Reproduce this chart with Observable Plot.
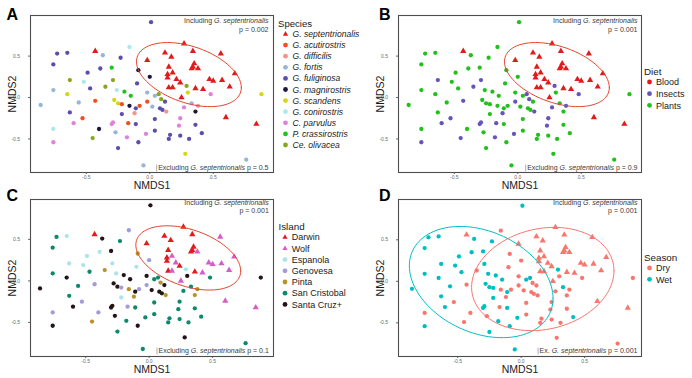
<!DOCTYPE html>
<html><head><meta charset="utf-8">
<script src="https://cdn.jsdelivr.net/npm/d3@7"></script>
<script src="https://cdn.jsdelivr.net/npm/@observablehq/plot@0.6"></script>
<style>
body{margin:0;background:#fff;}
#root{position:relative;width:692px;height:378px;overflow:hidden;font-family:"Liberation Sans",Arial,sans-serif;background:#fff;}
.panel{position:absolute;}
#overlay{position:absolute;left:0;top:0;pointer-events:none;}
</style></head><body><div id="root"></div>
<script>
// ---------- categories ----------
const speciesNames = ["G. septentrionalis","G. acutirostris","G. difficilis","G. fortis","G. fuliginosa","G. magnirostris","G. scandens","G. conirostris","C. parvulus","P. crassirostris","Ce. olivacea"];
const speciesColors = ["#e31a1c","#f0501e","#f4948c","#97b5d9","#5c4fab","#1d1740","#d6d614","#aee8e8","#de84d8","#1dc51d","#88a61f"];
const dietNames = ["Blood","Insects","Plants"];
const dietColors = ["#e31a1c","#6853bd","#21c11a"];
const islandNames = ["Darwin","Wolf","Espanola","Genovesa","Pinta","San Cristobal","Santa Cruz+"];
const islandColors = ["#e31a1c","#d75bc9","#ade3ea","#a39bdc","#b8922b","#0b8a6e","#241416"];
const seasonNames = ["Dry","Wet"];
const seasonColors = ["#F8766D","#00BFC4"];
const xTicks = [-0.5, 0, 0.5];
const yTicks = [-0.5, 0, 0.5];

// ---------- samples (NMDS scores + group codes) ----------
const nmds1 = [
 -0.43,-0.02,0.27,0.12,0.17,0.34,0.56,0.35,0.34,0.33,0.38,0.15,0.18,0.14,0.14,0.21,0.24,0.15,0.18,0.36,0.42,0.25,0.47,0.50,0.57,0.67,0.63,0.60,0.84,
 0.01,-0.73,-0.65,-0.37,-0.16,-0.76,-0.23,-0.49,-0.39,-0.30,-0.09,-0.63,-0.52,-0.47,-0.35,-0.29,-0.76,-0.65,0.00,-0.10,-0.26,-0.20,-0.15,-0.02,-0.86,-0.56,-0.43,-0.28,-0.25,-0.22,-0.02,-0.08,-0.11,-0.16,-0.63,-0.53,-0.22,-0.12,0.02,-0.60,-0.40,-0.30,-0.29,-0.17,-0.11,-0.76,-0.27,-0.18,-0.03,-0.45,-0.09,-0.76,-0.25,-0.05,
 0.04,0.07,0.09,0.12,0.08,0.10,0.13,0.04,0.24,0.23,0.36,0.04,0.16,0.15,0.24,0.31,0.41,0.28,0.76,0.88,
 0.29,0.30,0.48,0.33,0.38,0.36,0.27];
const nmds2 = [
 0.56,0.45,0.65,0.54,0.49,0.56,0.53,0.41,0.37,0.35,0.35,0.37,0.30,0.28,0.24,0.22,0.18,0.12,0.12,0.11,0.10,0.00,0.22,0.20,0.21,0.29,0.13,-0.24,-0.32,
 0.91,0.53,0.54,0.51,0.61,0.40,0.48,0.30,0.35,0.36,0.33,0.21,0.19,0.11,0.13,0.21,0.09,0.04,0.25,0.17,0.09,0.07,0.02,0.06,-0.09,-0.06,-0.04,-0.03,-0.07,-0.08,-0.05,-0.10,-0.13,-0.10,-0.18,-0.25,-0.20,-0.19,-0.11,-0.31,-0.38,-0.32,-0.30,-0.31,-0.32,-0.38,-0.42,-0.48,-0.44,-0.49,-0.54,-0.54,-0.61,-0.82,
 0.02,0.04,-0.02,-0.05,-0.13,-0.15,-0.17,-0.26,-0.25,-0.34,-0.33,-0.40,-0.45,-0.50,-0.46,-0.50,-0.43,-0.68,-0.75,0.04,
 0.14,0.06,0.04,-0.07,-0.10,-0.17,-0.12];
const species = [
 0,0,0,0,0,0,0,0,0,0,0,0,0,0,0,0,0,0,0,0,0,0,0,0,0,0,0,0,0,
 4,4,4,3,7,4,4,4,4,9,5,10,7,4,10,10,3,6,5,4,7,9,9,3,3,3,1,6,6,1,1,1,4,5,4,1,4,2,3,8,5,8,8,1,4,7,3,8,8,10,4,8,4,3,
 3,10,10,4,4,4,2,4,8,8,4,4,4,4,4,4,4,6,3,6,
 10,6,8,3,2,5,8];
const diet = [
 0,0,0,0,0,0,0,0,0,0,0,0,0,0,0,0,0,0,0,0,0,0,0,0,0,0,0,0,0,
 2,2,2,2,2,2,2,2,2,2,2,1,2,2,1,1,2,2,2,2,2,2,2,2,2,2,1,2,2,2,1,2,2,2,2,1,2,1,2,1,2,1,1,1,2,2,2,1,1,1,2,1,2,2,
 2,1,1,2,2,2,1,2,1,1,2,2,2,2,2,2,2,2,2,2,
 1,2,1,2,1,2,1];
const island = [
 0,0,0,0,0,0,1,0,0,0,1,0,1,0,0,1,0,0,1,0,1,1,1,1,1,1,1,1,1,
 6,5,2,6,3,5,5,2,2,6,4,2,2,5,4,2,5,6,3,2,2,6,6,6,6,5,3,6,6,3,3,3,6,4,5,3,2,4,6,6,3,6,6,3,5,3,6,5,5,4,6,6,5,5,
 5,5,4,6,6,6,4,5,5,5,5,5,5,5,5,5,5,6,5,6,
 2,6,5,5,4,4,5];
const season = [
 0,0,0,0,0,0,0,0,0,0,0,0,0,0,0,0,0,0,0,0,0,0,0,0,0,0,0,0,0,
 1,1,1,1,0,1,1,1,1,1,0,1,1,1,0,1,1,1,0,0,1,1,1,0,1,1,0,1,1,1,0,0,1,0,1,0,1,0,0,1,0,1,1,0,1,0,0,1,1,0,1,1,1,1,
 1,1,0,0,0,0,0,0,0,0,0,0,0,0,0,0,1,0,0,0,
 1,0,0,1,0,0,0];

const samples = nmds1.map((x, i) => ({
  x, y: nmds2[i],
  species: speciesNames[species[i]],
  diet: dietNames[diet[i]],
  island: islandNames[island[i]],
  season: seasonNames[season[i]],
  sept: species[i] === 0
}));

// ---------- stat_ellipse style (multivariate t, robust covariance) ----------
const ELLIPSE_LEVEL = 0.88;
function tEllipse(pts, level = ELLIPSE_LEVEL, nu = 5, seg = 120) {
  const n = pts.length, p = 2;
  let w = new Array(n).fill(1);
  let lx = d3.mean(pts, d => d.x), ly = d3.mean(pts, d => d.y);
  let X = [];
  for (let it = 0; it < 500; it++) {
    const w0 = w.slice();
    X = pts.map(d => [d.x - lx, d.y - ly]);
    const sw = d3.sum(w);
    let a = 0, b = 0, c = 0;
    X.forEach((v, i) => { a += w[i]*v[0]*v[0]; b += w[i]*v[0]*v[1]; c += w[i]*v[1]*v[1]; });
    a /= sw; b /= sw; c /= sw;
    const det = a*c - b*b;
    w = X.map(v => (nu + p) / (nu + (v[0]*v[0]*c - 2*v[0]*v[1]*b + v[1]*v[1]*a) / det));
    const s2 = d3.sum(w);
    lx = d3.sum(pts, (d, i) => w[i]*d.x) / s2;
    ly = d3.sum(pts, (d, i) => w[i]*d.y) / s2;
    if (d3.max(w, (v, i) => Math.abs(v - w0[i])) < 1e-6) break;
  }
  let a = 0, b = 0, c = 0;
  X.forEach((v, i) => { a += w[i]*v[0]*v[0]; b += w[i]*v[0]*v[1]; c += w[i]*v[1]*v[1]; });
  a /= n; b /= n; c /= n;
  const r11 = Math.sqrt(a), r12 = b / r11, r22 = Math.sqrt(c - r12*r12);
  const dfd = n - 1;
  const qf = (dfd / 2) * (Math.pow(1 - level, -2 / dfd) - 1);
  const rad = Math.sqrt(2 * qf);
  return d3.range(seg + 1).map(k => {
    const t = 2 * Math.PI * k / seg, co = Math.cos(t), si = Math.sin(t);
    return {x: lx + rad * co * r11, y: ly + rad * (co * r12 + si * r22)};
  });
}

const septEll = tEllipse(samples.filter(d => d.sept)).map(d => ({...d, g: "sept"}));
const dryEll = tEllipse(samples.filter(d => d.season === "Dry")).map(d => ({...d, g: "Dry"}));
const wetEll = tEllipse(samples.filter(d => d.season === "Wet")).map(d => ({...d, g: "Wet"}));

const FONT = '"Liberation Sans", Arial, Helvetica, sans-serif';
const fmt = d => d.toFixed(1);

function panel({left, top, key, names, colors, xDomain, yDomain, ellipses, ellColor}) {
  const circles = samples.filter(d => !d.sept);
  const tris = samples.filter(d => d.sept);
  const plot = Plot.plot({
    width: 276, height: 190,
    marginLeft: 30, marginRight: 3, marginTop: 15, marginBottom: 18,
    x: {domain: xDomain},
    y: {domain: yDomain},
    color: {domain: names, range: colors},
    style: {fontFamily: FONT, background: "transparent", overflow: "visible"},
    marks: [
      Plot.axisX(xTicks, {tickFormat: fmt, tickSize: 2, tickPadding: 1, fontSize: 5, color: "#6a6a6a", label: null}),
      Plot.axisY(yTicks, {tickFormat: fmt, tickSize: 2, tickPadding: 8.5, fontSize: 5, color: "#6a6a6a", label: null}),
      Plot.dot(circles, {x: "x", y: "y", r: 2.15, fill: key, symbol: "circle"}),
      Plot.dot(tris, {x: "x", y: "y", r: 2.3, fill: key, symbol: "triangle"}),
      ...ellipses.map(e => Plot.line(e, {x: "x", y: "y", stroke: ellColor(e[0].g), strokeWidth: 1, curve: "linear"})),
      Plot.frame({stroke: "#4d4d4d", strokeWidth: 1.1}),
      Plot.text(["NMDS1"], {text: d => d, frameAnchor: "bottom", lineAnchor: "middle", textAnchor: "middle", dy: 13.5, fontSize: 10.5, fill: "#1a1a1a"}),
      Plot.text(["NMDS2"], {text: d => d, frameAnchor: "left", lineAnchor: "middle", textAnchor: "middle", dx: -18, rotate: -90, fontSize: 10.5, fill: "#1a1a1a"})
    ]
  });
  const div = document.createElement("div");
  div.className = "panel";
  div.style.left = left + "px";
  div.style.top = top + "px";
  div.appendChild(plot);
  document.getElementById("root").appendChild(div);
}

const xd = [-0.94, 0.975], yd = [-0.905, 0.99];
panel({left: 0, top: 0, key: "species", names: speciesNames, colors: speciesColors, xDomain: xd, yDomain: yd, ellipses: [septEll], ellColor: () => "#e6412b"});
panel({left: 368, top: 0, key: "diet", names: dietNames, colors: dietColors, xDomain: xd, yDomain: yd, ellipses: [septEll], ellColor: () => "#e6412b"});
panel({left: 0, top: 184, key: "island", names: islandNames, colors: islandColors, xDomain: [-0.935, 0.98], yDomain: [-0.91, 0.98], ellipses: [septEll], ellColor: () => "#e6412b"});
panel({left: 368, top: 184, key: "season", names: seasonNames, colors: seasonColors, xDomain: [-0.966, 0.948], yDomain: [-0.905, 0.985], ellipses: [wetEll, dryEll], ellColor: g => g === "Dry" ? "#F8766D" : "#00BFC4"});

// ---------- overlay: panel letters, legends, annotations ----------
const svg = d3.select("#root").append("svg").attr("id", "overlay")
  .attr("width", 692).attr("height", 378).style("font-family", FONT);

[["A", 6.5, 20], ["B", 379, 19.5], ["C", 6.5, 201], ["D", 379, 201]].forEach(([t, x, y]) =>
  svg.append("text").attr("x", x).attr("y", y).attr("font-size", 16).attr("font-weight", "bold").attr("fill", "#000").text(t));

function legend({title, names, colors, x, titleY, y0, step, mx, tx, italic, triFirst, fs, tfs}) {
  svg.append("text").attr("x", x).attr("y", titleY).attr("font-size", tfs).attr("fill", "#1a1a1a").text(title);
  names.forEach((nm, i) => {
    const cy = y0 + i * step;
    if (triFirst && i < triFirst) {
      const s = 5.2;
      svg.append("path").attr("d", `M${mx},${cy - s*0.58}L${mx + s/2},${cy + s*0.32}L${mx - s/2},${cy + s*0.32}Z`).attr("fill", colors[i]);
    } else {
      svg.append("circle").attr("cx", mx).attr("cy", cy).attr("r", 2.4).attr("fill", colors[i]);
    }
    svg.append("text").attr("x", tx).attr("y", cy + fs * 0.36).attr("font-size", fs)
      .attr("font-style", italic ? "italic" : "normal").attr("fill", "#1a1a1a").text(nm);
  });
}
legend({title: "Species", names: speciesNames, colors: speciesColors, x: 278, titleY: 26.5, y0: 34, step: 11.1, mx: 285.5, tx: 292.5, italic: true, triFirst: 1, fs: 8.6, tfs: 9.6});
legend({title: "Diet", names: dietNames, colors: dietColors, x: 644, titleY: 74.5, y0: 82, step: 11.65, mx: 649.5, tx: 656, italic: false, triFirst: 0, fs: 9, tfs: 9.8});
legend({title: "Island", names: islandNames, colors: islandColors, x: 278.5, titleY: 229.5, y0: 237.2, step: 11.2, mx: 285, tx: 291.7, italic: false, triFirst: 2, fs: 9, tfs: 9.8});
legend({title: "Season", names: seasonNames, colors: seasonColors, x: 644, titleY: 260.5, y0: 268, step: 11.3, mx: 649.5, tx: 656, italic: false, triFirst: 0, fs: 9, tfs: 9.8});

function annotate(xr, yTop, pText, yBot, prefix, pBot, boxBottom) {
  const g = svg.append("g").attr("font-size", 7).attr("fill", "#3a3a3a");
  const t1 = g.append("text").attr("x", xr).attr("y", yTop).attr("text-anchor", "end");
  t1.append("tspan").text("Including ");
  t1.append("tspan").attr("font-style", "italic").text("G. septentrionalis");
  g.append("text").attr("x", xr).attr("y", yTop + 8.5).attr("text-anchor", "end").text(pText);
  const gb = svg.append("g").attr("font-size", 7).attr("fill", "#3a3a3a");
  const t2 = gb.append("text").attr("x", xr).attr("y", yBot).attr("text-anchor", "end");
  t2.append("tspan").text(prefix);
  t2.append("tspan").attr("font-style", "italic").text("G. septentrionalis");
  t2.append("tspan").text(" " + pBot);
  const bb = t2.node().getBBox();
  gb.insert("rect", "text").attr("x", bb.x - 1.5).attr("y", bb.y - 0.5).attr("width", xr + 2 - (bb.x - 1.5)).attr("height", boxBottom - (bb.y - 0.5)).attr("fill", "#fff");
  gb.insert("line", "text").attr("x1", bb.x - 1.5).attr("x2", bb.x - 1.5).attr("y1", bb.y + 1).attr("y2", boxBottom).attr("stroke", "#777").attr("stroke-width", 0.6);
}
annotate(268.5, 23, "p = 0.002", 169.5, "Excluding ", "p = 0.5", 171.4);
annotate(637.5, 23, "p = 0.001", 169.5, "Excluding ", "p = 0.9", 171.4);
annotate(268.8, 204.8, "p = 0.001", 352.6, "Excluding ", "p = 0.1", 354.4);
annotate(637.5, 204.8, "p = 0.001", 352.6, "Ex. ", "p = 0.001", 354.4);
</script></body></html>
